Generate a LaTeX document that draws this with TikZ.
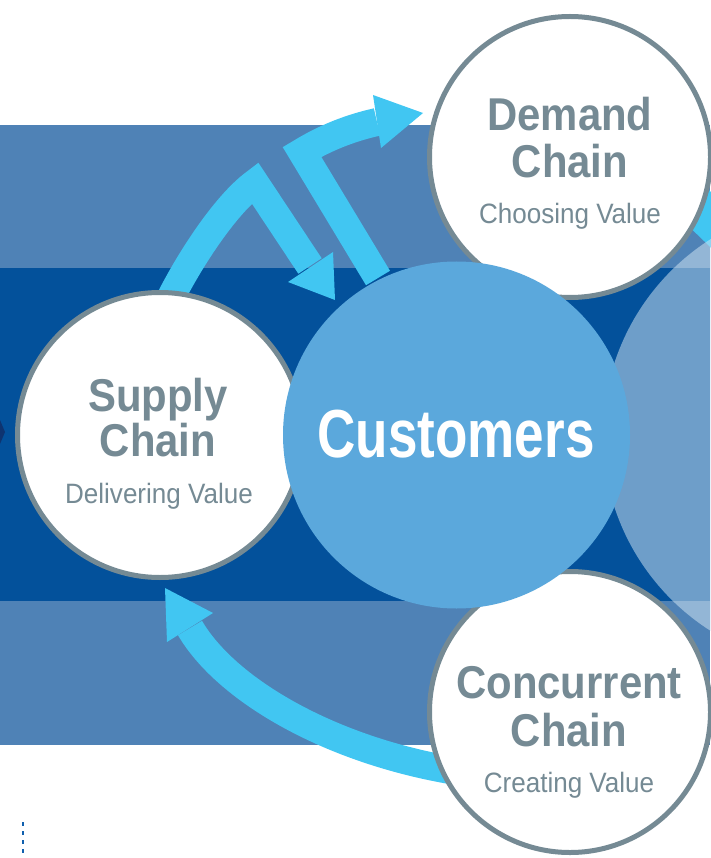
\documentclass[tikz,border=0pt]{standalone}
\usepackage{fontspec}
\setmainfont{Liberation Sans}
\newfontfamily\chainfont[FakeStretch=0.91]{Liberation Sans}
\newfontfamily\subfont[FakeStretch=0.93]{Liberation Sans}
\newfontfamily\custfont[FakeStretch=0.78]{Liberation Sans}
\definecolor{lightband}{HTML}{4F82B6}
\definecolor{darkband}{HTML}{03519B}
\definecolor{arrowcyan}{HTML}{41C6F2}
\definecolor{custblue}{HTML}{5BA8DC}
\definecolor{ringgray}{HTML}{758A94}
\definecolor{overlaycol}{HTML}{D2E6F5}
\definecolor{navytip}{HTML}{0E3470}
\definecolor{dotcol}{HTML}{1060AE}
\begin{document}
\begin{tikzpicture}[x=1pt,y=-1pt,
  band/.style={draw=arrowcyan, line width=28pt, line join=miter, line cap=butt},
  headtip/.style={fill=arrowcyan},
  chaincircle/.style={circle, draw=ringgray, line width=5pt, fill=white, inner sep=0pt, minimum size=281pt},
  titletext/.style={text=ringgray, font=\chainfont\bfseries\fontsize{46}{46}\selectfont, anchor=base, inner sep=0pt},
  subtext/.style={text=ringgray, font=\subfont\fontsize{28}{28}\selectfont, anchor=base, inner sep=0pt},
]
\useasboundingbox (0,0) rectangle (710,858);
% bands
\fill[lightband] (0,125) rectangle (710,745);
\fill[darkband] (0,268) rectangle (710,601);
\fill[navytip] (0,420) -- (5,432) -- (0,444) -- cycle;
% cyan arrow leaving demand chain to the right
\coordinate (a4s) at (680,190);
\coordinate (a4e) at (740,248);
\draw[band, line width=40pt] (a4s) -- (a4e);
% translucent overlay circle at right
\fill[overlaycol, opacity=0.52] (835,435) circle[radius=232];
% arrow 1: supply -> customers
\coordinate (a1s) at (167,305);
\coordinate (a1k) at (255,183);
\coordinate (a1e) at (310,266);
\draw[band] (a1s) .. controls (188,262) and (225,205) .. (a1k) -- (a1e);
\fill[headtip] (288,282) -- (335,300) -- (333,252) -- cycle;
% arrow 2: customers -> demand
\coordinate (a2s) at (378,278);
\coordinate (a2k) at (302,152);
\coordinate (a2e) at (377,122);
\draw[band] (a2s) -- (a2k) .. controls (325,138) and (350,128) .. (a2e);
\fill[headtip] (373,95) -- (423,113) -- (381,148) -- cycle;
% arrow 3: concurrent -> supply
\coordinate (a3s) at (450,770);
\coordinate (a3e) at (190,628);
\draw[band] (a3s) .. controls (325,748) and (225,688) .. (a3e);
\fill[headtip] (167,642) -- (165,588) -- (213,613) -- cycle;
% circles
\node[chaincircle, minimum size=285pt] (supply) at (160,435) {};
\node[chaincircle] (demand) at (570,157) {};
\node[chaincircle] (concurrent) at (570,712) {};
\node[circle, fill=custblue, inner sep=0pt, minimum size=347pt] (customers) at (456.5,435) {};
% texts
\node[titletext] (t1) at (158,411) {Supply};
\node[titletext] (t2) at (158,456) {Chain};
\node[subtext] (t3) at (159,503) {Delivering Value};
\node[titletext] (t4) at (570,131) {Demand};
\node[titletext] (t5) at (570,178) {Chain};
\node[subtext] (t6) at (570,224) {Choosing Value};
\node[titletext] (t7) at (569,698) {Concurrent};
\node[titletext] (t8) at (569,746) {Chain};
\node[subtext] (t9) at (569,792) {Creating Value};
\node[text=white, font=\custfont\bfseries\fontsize{68}{68}\selectfont, anchor=base, inner sep=0pt] (t10) at (456,457) {Customers};
% dotted mark
\coordinate (d1) at (23,822);
\coordinate (d2) at (23,854);
\draw[dotcol, line width=2pt, dash pattern=on 4pt off 5pt] (d1) -- (d2);
\end{tikzpicture}
\end{document}
